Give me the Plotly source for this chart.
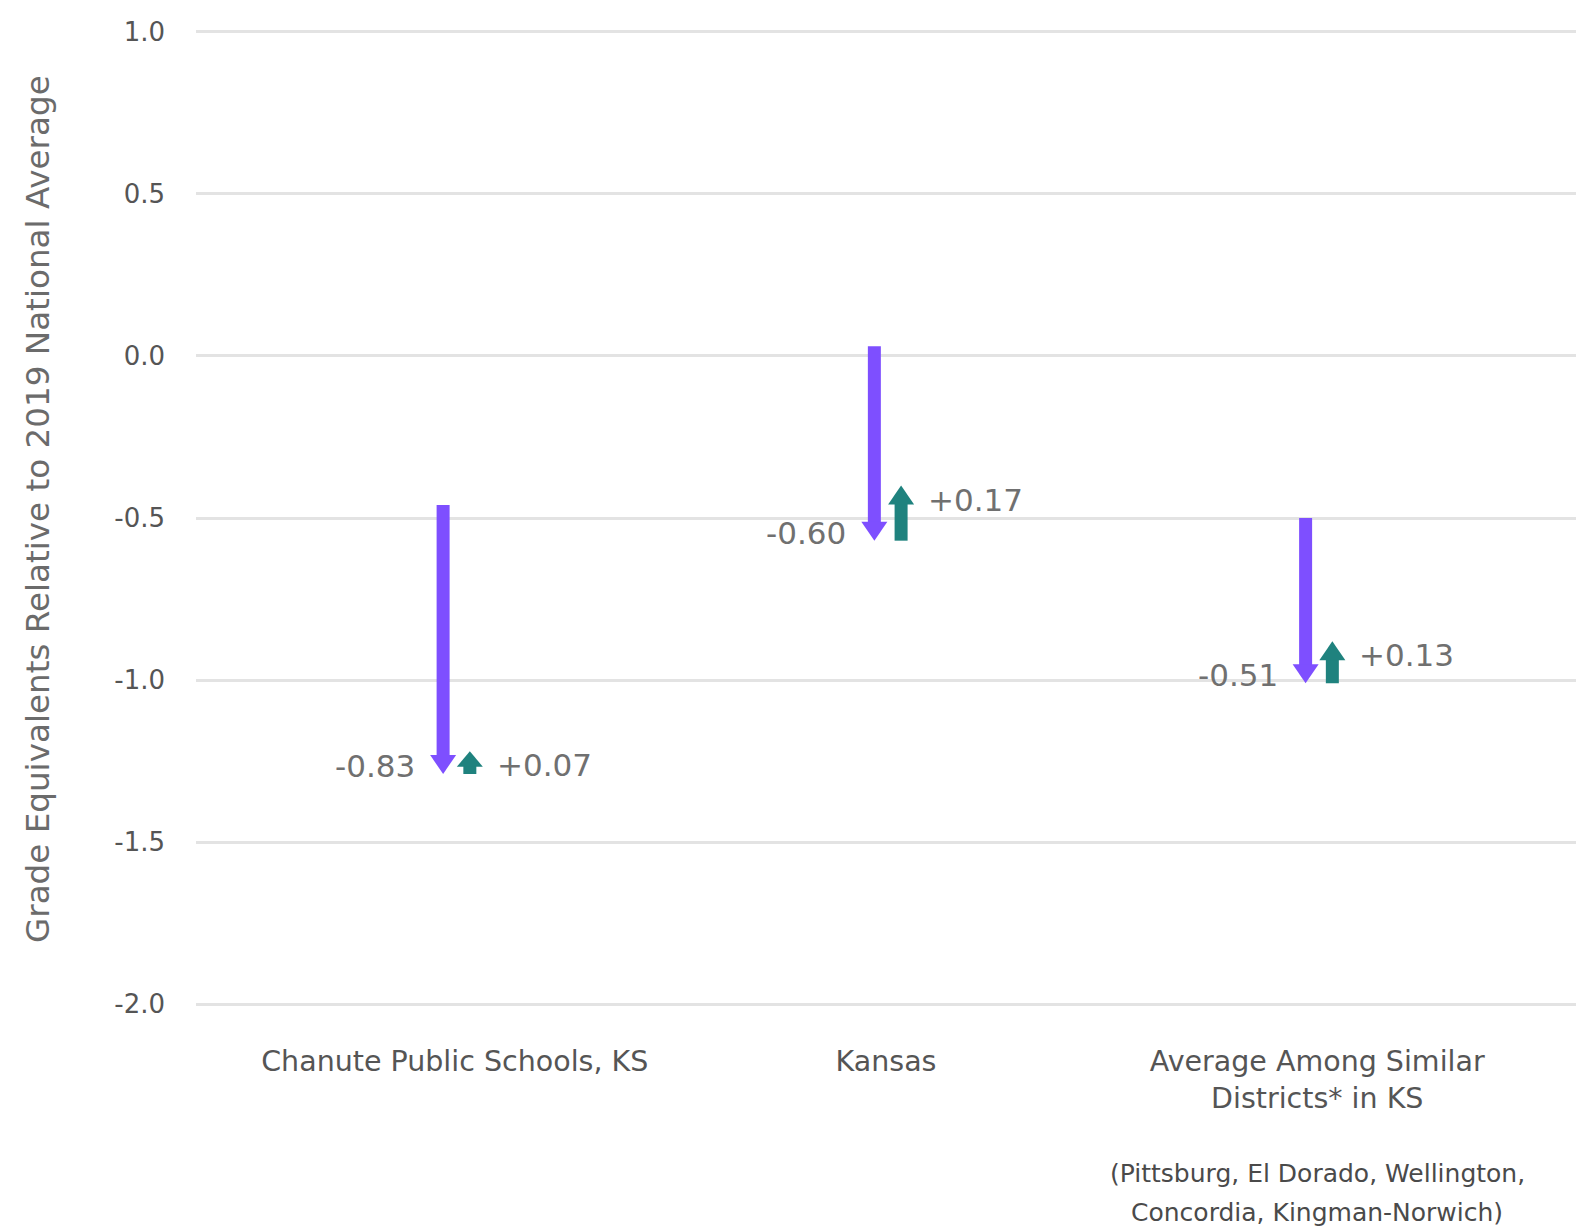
import plotly.graph_objects as go

# ---- data ----
categories = ["Chanute Public Schools, KS", "Kansas", "Average Among Similar<br>Districts* in KS"]
baseline = [-0.46, 0.03, -0.50]      # starting level (grade equivalents vs 2019 national avg)
decline = [-0.83, -0.60, -0.51]      # purple arrows
recovery = [0.07, 0.17, 0.13]        # teal arrows
y_ticks = [1.0, 0.5, 0.0, -0.5, -1.0, -1.5, -2.0]
y_tick_text = ["1.0", "0.5", "0.0", "-0.5", "-1.0", "-1.5", "-2.0"]
note_lines = ["(Pittsburg, El Dorado, Wellington,", "Concordia, Kingman-Norwich)"]
y_title = "Grade Equivalents Relative to 2019 National Average"

# ---- style ----
W, H = 1576, 1231              # body margin removed in the page (post_script)
ML, MR, MT, MB = 196, 0, 30, 225
Y_RANGE = [-2.006, 1.006]
X_RANGE = [-0.6, 2.6]
PURPLE = "#7E4FFF"
TEAL = "#1F827E"
FONT = "DejaVu Sans, sans-serif"
plot_h = H - MT - MB
ppu = plot_h / (Y_RANGE[1] - Y_RANGE[0])   # pixels per data unit
P_OFF, T_OFF = -0.027, 0.035
SHAFT_HALF = 6.5
HEAD_HALF = 13
HEAD_H = 19

fig = go.Figure()
shapes = []
annotations = []

def arrow(xc, y_from, y_to, color):
    length_px = abs(y_to - y_from) * ppu
    hh = min(HEAD_H, 0.68 * length_px)
    sign = 1 if y_to > y_from else -1
    base = y_to - sign * (hh - 1) / ppu
    shapes.append(dict(type="rect", xref="x", yref="y", xsizemode="pixel", xanchor=xc,
                       x0=-SHAFT_HALF, x1=SHAFT_HALF, y0=y_from, y1=base,
                       fillcolor=color, line=dict(width=0), layer="above"))
    hy = -sign * hh
    shapes.append(dict(type="path", xref="x", yref="y", xsizemode="pixel", ysizemode="pixel",
                       xanchor=xc, yanchor=y_to,
                       path=f"M{-HEAD_HALF},{hy} L{HEAD_HALF},{hy} L0,0 Z",
                       fillcolor=color, line=dict(width=0), layer="above"))

for i in range(len(categories)):
    start = baseline[i]
    low = start + decline[i]
    rec = low + recovery[i]
    arrow(i + P_OFF, start, low, PURPLE)
    arrow(i + T_OFF, low, rec, TEAL)
    annotations.append(dict(x=i + P_OFF, y=low, xref="x", yref="y", text=f"{decline[i]:+.2f}",
                            showarrow=False, xanchor="right", yanchor="middle", xshift=-26, yshift=8,
                            font=dict(family=FONT, size=31, color="#707070")))
    annotations.append(dict(x=i + T_OFF, y=rec, xref="x", yref="y", text=f"{recovery[i]:+.2f}",
                            showarrow=False, xanchor="left", yanchor="middle", xshift=25, yshift=-14,
                            font=dict(family=FONT, size=31, color="#707070")))

# invisible trace to establish axes
fig.add_trace(go.Scatter(x=list(range(len(categories))), y=baseline, mode="markers",
                         marker=dict(opacity=0), hoverinfo="skip", showlegend=False))

annotations.append(dict(xref="paper", yref="paper", x=0, y=0.5, xshift=-158, yshift=9,
                        text=y_title, textangle=-90, showarrow=False,
                        xanchor="center", yanchor="middle",
                        font=dict(family=FONT, size=32.6, color="#6b6b6b")))
for k, line in enumerate(note_lines):
    annotations.append(dict(xref="x", yref="paper", x=2, y=0, yshift=-(167 + 39 * k),
                            text=line, showarrow=False, xanchor="center", yanchor="middle",
                            font=dict(family=FONT, size=25, color="#4a4a4a")))

fig.update_layout(
    width=W, height=H,
    margin=dict(l=ML, r=MR, t=MT, b=MB),
    paper_bgcolor="white", plot_bgcolor="white",
    shapes=shapes, annotations=annotations,
    showlegend=False,
    xaxis=dict(range=X_RANGE, tickvals=list(range(len(categories))), ticktext=categories,
               showgrid=False, zeroline=False, showline=False, ticks="",
               tickfont=dict(family=FONT, size=28.5, color="#555555"), ticklabelstandoff=35),
    yaxis=dict(range=Y_RANGE, tickvals=y_ticks, ticktext=y_tick_text,
               showgrid=True, gridcolor="#e3e3e3", gridwidth=3, zeroline=False, showline=False,
               ticks="", tickfont=dict(family=FONT, size=26, color="#555555"), ticklabelstandoff=30),
)

fig.write_html(
    "out.html",
    config={"displayModeBar": False},
    post_script=("document.documentElement.style.overflow='hidden';"
                 "document.body.style.overflow='hidden';"
                 "document.body.style.margin='0';"),
)
